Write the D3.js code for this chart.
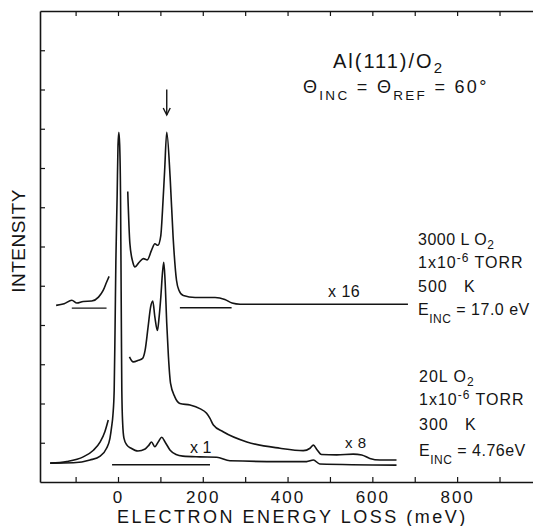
<!DOCTYPE html>
<html>
<head>
<meta charset="utf-8">
<script src="https://cdn.jsdelivr.net/npm/d3@7"></script>
<style>
    body { margin: 0; background: #fff; }
    svg text { font-family: "Liberation Sans", Arial, sans-serif; fill: #141414; }
</style>
</head>
<body>
<svg id="chart" width="533" height="526"></svg>
<script>
// axis ticks (meV / intensity units)
const xTicks = [-100, 0, 100, 200, 300, 400, 500, 600, 700, 800, 900];
const xLabels = [0, 200, 400, 600, 800];
const yTicks = [1, 2, 3, 4, 5, 6, 7, 8, 9, 10, 11];

// 3000 L O2 spectrum, magnified x16 (left and right of the elastic peak)
const upperLeftX16 = [[-146, 4.50], [-127, 4.54], [-109, 4.63], [-97, 4.56], [-82, 4.60], [-62, 4.61],
    [-46, 4.71], [-35, 4.88], [-27, 5.09], [-21, 5.24]];
const upperRightX16 = [[23, 7.40], [28, 6.08], [35, 5.60], [40, 5.48], [50, 5.60], [60, 5.69], [69, 5.66],
    [79, 5.90], [87, 6.07], [94, 6.03], [101, 6.28], [105, 6.92], [110, 7.93], [115, 8.91], [123, 7.76],
    [130, 6.24], [138, 5.14], [144, 4.88], [154, 4.75], [182, 4.70], [229, 4.70], [252, 4.65], [269, 4.56],
    [288, 4.53], [684, 4.53]];

// 20 L O2 spectrum, x1 and magnified x8
const lowerX1 = [[-160, 0.48], [-105, 0.49], [-66, 0.56], [-42, 0.66], [-27, 0.86], [-19, 1.11], [-15, 1.41],
    [-12, 1.70], [-9, 2.34], [-7, 3.86], [-5, 5.64], [-2, 7.30], [0, 8.57], [2, 8.91], [4, 8.57], [6, 7.30],
    [7, 5.64], [8, 3.86], [9, 2.34], [11, 1.50], [14, 1.12], [21, 0.94], [31, 0.86], [47, 0.79], [64, 0.84],
    [73, 0.94], [79, 1.02], [87, 0.90], [96, 1.04], [103, 1.14], [111, 1.02], [123, 0.81], [137, 0.70],
    [153, 0.66], [193, 0.64], [233, 0.63], [264, 0.54], [382, 0.52], [445, 0.52], [461, 0.56], [476, 0.46],
    [657, 0.43]];
const lowerLeftX8 = [[-160, 0.48], [-121, 0.52], [-82, 0.64], [-58, 0.81], [-42, 1.02], [-31, 1.28], [-23, 1.58]];
const lowerRightX8 = [[27, 3.19], [36, 3.06], [48, 3.10], [58, 3.15], [64, 3.36], [71, 3.95], [77, 4.46],
    [82, 4.61], [87, 4.20], [93, 3.86], [97, 4.20], [101, 4.71], [105, 5.34], [108, 5.60], [111, 5.14],
    [115, 4.04], [119, 3.19], [124, 2.51], [134, 2.17], [146, 2.00], [170, 1.96], [193, 1.87], [209, 1.75],
    [217, 1.62], [225, 1.45], [248, 1.28], [304, 1.02], [382, 0.86], [437, 0.80], [453, 0.86], [461, 0.94],
    [469, 0.83], [480, 0.70], [516, 0.69], [555, 0.71], [575, 0.69], [594, 0.60], [618, 0.56], [657, 0.56]];

// zero lines drawn under the magnified traces
const baseFrom = [-109, 146, -14];
const baseTo = [-27, 268, 217];
const baseLevel = [4.43, 4.44, 0.44];

// loss peak marker (meV, top, tip)
const arrowMark = [115, 10.0, 9.35];

const svg = d3.select('#chart');
const x = d3.scaleLinear().domain([-184, 979]).range([40, 533]);
const y = d3.scaleLinear().domain([0, 12]).range([482, 11]);

// frame + inward ticks
const gBottom = svg.append('g').attr('transform', `translate(0,${y(0)})`)
    .call(d3.axisBottom(x).tickValues(xTicks).tickSizeInner(-5).tickSizeOuter(0).tickPadding(9)
        .tickFormat(d => xLabels.includes(d) ? d : ''));
const gTop = svg.append('g').attr('transform', `translate(0,${y(12)})`)
    .call(d3.axisTop(x).tickValues(xTicks).tickSizeInner(-5).tickSizeOuter(0).tickFormat(''));
const gLeft = svg.append('g').attr('transform', `translate(${x.range()[0]},0)`)
    .call(d3.axisLeft(y).tickValues(yTicks).tickSizeInner(-5).tickSizeOuter(0).tickFormat(''));

[gBottom, gTop, gLeft].forEach(g => {
    g.select('.domain').attr('stroke', '#141414').attr('stroke-width', 1.6);
    g.selectAll('.tick line').attr('stroke', '#141414').attr('stroke-width', 1.2);
});
gBottom.selectAll('.tick text')
    .attr('font-size', 17).attr('fill', '#141414')
    .style('font-family', '"Liberation Sans", Arial, sans-serif')
    .style('letter-spacing', '2px');

// traces
const line = d3.line()
    .x(d => x(d[0]))
    .y(d => y(d[1]))
    .curve(d3.curveMonotoneX);

[upperLeftX16, upperRightX16, lowerX1, lowerLeftX8, lowerRightX8].forEach(s => {
    svg.append('path')
        .datum(s)
        .attr('d', line)
        .attr('fill', 'none')
        .attr('stroke', '#141414')
        .attr('stroke-width', 1.6)
        .attr('stroke-linejoin', 'round');
});

svg.selectAll('.base')
    .data(baseFrom)
    .enter().append('line')
    .attr('class', 'base')
    .attr('x1', (d, i) => x(d))
    .attr('x2', (d, i) => x(baseTo[i]))
    .attr('y1', (d, i) => y(baseLevel[i]))
    .attr('y2', (d, i) => y(baseLevel[i]))
    .attr('stroke', '#141414')
    .attr('stroke-width', 1.3);

// arrow
const ax = x(arrowMark[0]);
svg.append('line')
    .attr('x1', ax).attr('x2', ax)
    .attr('y1', y(arrowMark[1])).attr('y2', y(arrowMark[2]))
    .attr('stroke', '#141414').attr('stroke-width', 1.4);
svg.append('path')
    .attr('d', `M${ax - 3.5},${y(arrowMark[2]) - 7}L${ax},${y(arrowMark[2])}L${ax + 3.5},${y(arrowMark[2]) - 7}`)
    .attr('fill', 'none').attr('stroke', '#141414').attr('stroke-width', 1.4);

// text with sub/superscripts; sh = baseline shift as fraction of size
function label(px, py, size, parts, spacing) {
    const t = svg.append('text')
        .attr('x', px).attr('y', py)
        .attr('font-size', size)
        .style('letter-spacing', (spacing || 0) + 'px');
    let shift = 0;
    parts.forEach(p => {
        const s = typeof p === 'string' ? { t: p, sh: 0 } : p;
        const target = size * s.sh;
        t.append('tspan')
            .attr('dy', target - shift)
            .attr('font-size', s.sh ? size * 0.75 : size)
            .text(s.t);
        shift = target;
    });
    return t;
}

label(333, 68, 20, ['Al(111)/O', { t: '2', sh: 0.25 }], 2);
label(303, 93, 18, ['\u0398', { t: 'INC', sh: 0.4 }, ' = \u0398', { t: 'REF', sh: 0.4 }, ' = 60\u00b0'], 2.3);

label(418, 245, 16, ['3000 L O', { t: '2', sh: 0.22 }], 0.5);
label(418, 268, 16, ['1x10', { t: '-6', sh: -0.35 }, ' TORR'], 1);
label(418, 292, 16, ['500 \u00a0 K'], 1);
label(418, 315, 16, ['E', { t: 'INC', sh: 0.5 }, ' = 17.0 eV'], 0.5);

label(419, 382, 16, ['20L O', { t: '2', sh: 0.22 }], 1);
label(419, 405, 16, ['1x10', { t: '-6', sh: -0.35 }, ' TORR'], 1);
label(419, 430, 16, ['300 \u00a0 K'], 1);
label(419, 456, 16, ['E', { t: 'INC', sh: 0.5 }, ' = 4.76eV'], 0.5);

label(328, 297, 16, ['x 16'], 0.5);
label(345, 448, 15, ['x 8'], 0.5);
label(190, 453, 16, ['x 1'], 0);

label(117, 523, 18, ['ELECTRON ENERGY LOSS (meV)'], 2.5);

svg.append('text')
    .attr('transform', 'translate(25,241) rotate(-90)')
    .attr('text-anchor', 'middle')
    .attr('font-size', 19)
    .style('letter-spacing', '0.5px')
    .text('INTENSITY');
</script>
</body>
</html>
